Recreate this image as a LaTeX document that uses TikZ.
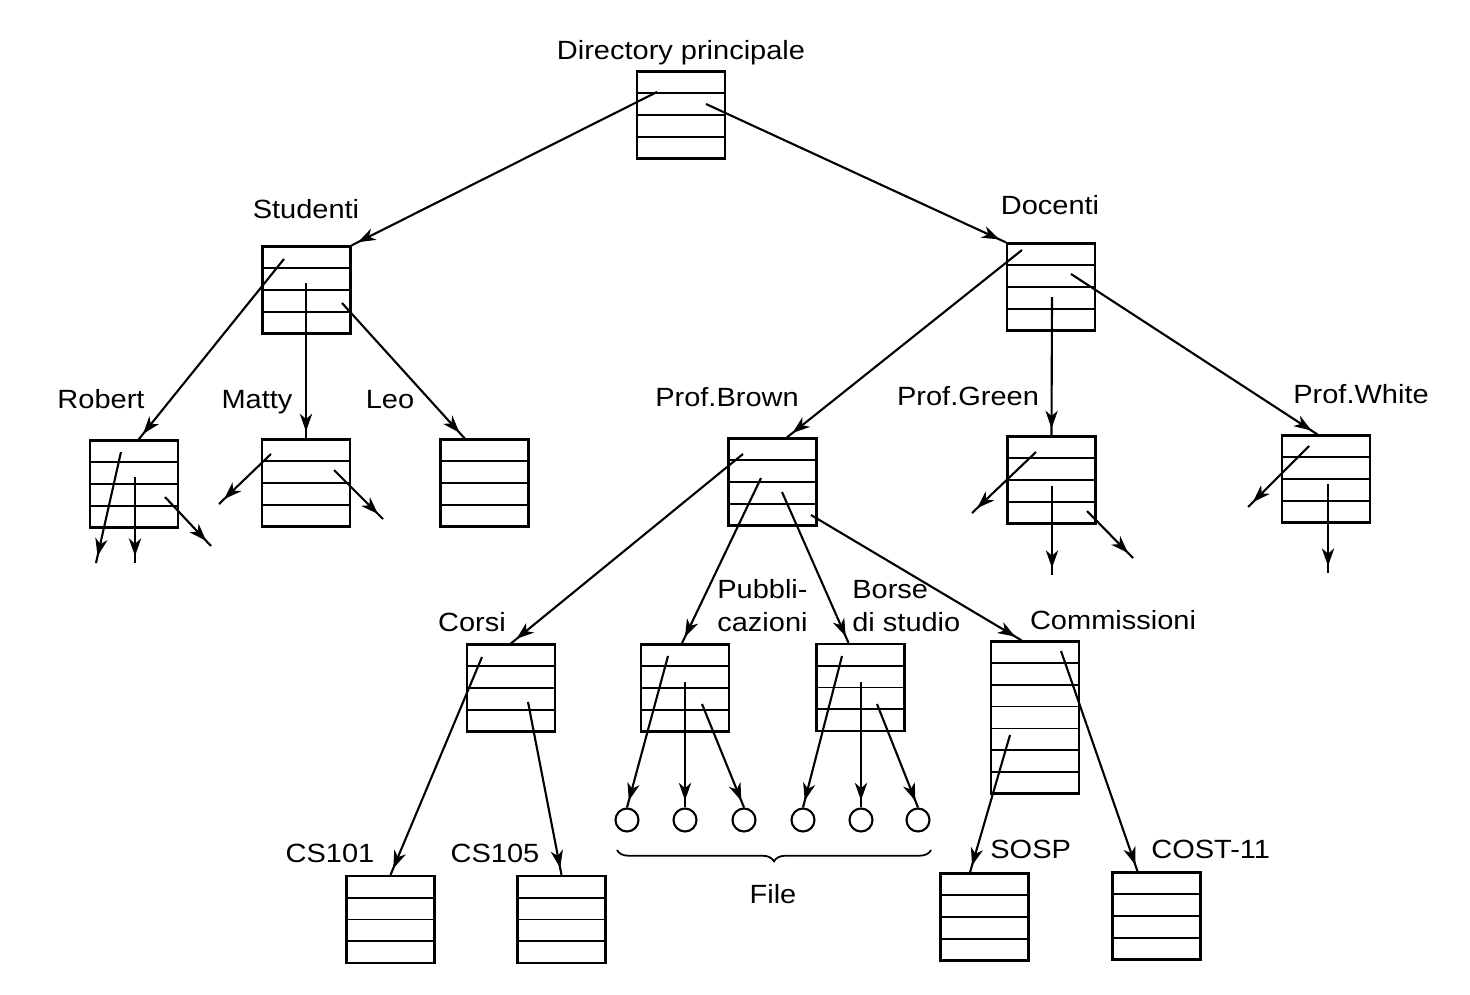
\documentclass[tikz,border=0pt]{standalone}
\usepackage{fontspec}
\setmainfont{Liberation Sans}[FakeStretch=1.1]
\usetikzlibrary{arrows.meta,decorations.markings,decorations.pathreplacing}

\begin{document}
\begin{tikzpicture}[x=0.02cm,y=-0.02cm,
    every node/.style={font=\fontsize{15pt}{18pt}\selectfont},
    lbl/.style={anchor=base, inner sep=0pt},
    dirbox/.style={draw, line width=1.3pt, inner sep=0pt, minimum width=1.76cm,
      minimum height=#1*0.435cm,
      path picture={\pgfmathtruncatemacro\nrows{#1-1}
        \foreach \k in {1,...,\nrows}
          \draw[line width=0.9pt] ([yshift=-\k*0.435cm]path picture bounding box.north west)
            -- ([yshift=-\k*0.435cm]path picture bounding box.north east);}},
    dirbox/.default=4,
    filenode/.style={draw, circle, line width=1.2pt, minimum size=0.46cm, inner sep=0pt},
    link/.style={line width=1.2pt, postaction={decorate},
      decoration={markings, mark=at position -4pt with {\arrow{Stealth[length=10pt,width=7pt,inset=3pt]}}}}]
                    \useasboundingbox (0,0) rectangle (1470,994);

                    \node[dirbox] at (681,115) (root) {};
                    \node[dirbox] at (306.5,290) (stud) {};
                    \node[dirbox] at (1051,287) (doc) {};
                    \node[dirbox] at (134,484) (robert) {};
                    \node[dirbox] at (306,483) (matty) {};
                    \node[dirbox] at (484.5,483) (leo) {};
                    \node[dirbox] at (772.5,482) (brown) {};
                    \node[dirbox] at (1051.5,480) (green) {};
                    \node[dirbox] at (1326,479) (white) {};
                    \node[dirbox] at (511,688) (corsi) {};
                    \node[dirbox] at (685,688) (pubbl) {};
                    \node[dirbox] at (860.5,687.5) (borse) {};
                    \node[dirbox=7] at (1035,717.5) (comm) {};
                    \node[dirbox] at (390.5,919.5) (cs101) {};
                    \node[dirbox] at (561.5,919.5) (cs105) {};
                    \node[dirbox] at (984.5,917) (sosp) {};
                    \node[dirbox] at (1156.5,916) (cost) {};

                    \foreach \x [count=\i] in {627,685,744,803,861,918}
                      \node[filenode] at (\x,820) (f\i) {};

                    \node[lbl] at (681,59) (lroot) {Directory principale};
                    \node[lbl] at (306,218) (lstud) {Studenti};
                    \node[lbl] at (1050,214) (ldoc) {Docenti};
                    \node[lbl] at (101,408) (lrobert) {Robert};
                    \node[lbl] at (257,408) (lmatty) {Matty};
                    \node[lbl] at (390,408) (lleo) {Leo};
                    \node[lbl] at (727,406) (lbrown) {Prof.Brown};
                    \node[lbl] at (968,405) (lgreen) {Prof.Green};
                    \node[lbl] at (1361,403) (lwhite) {Prof.White};
                    \node[lbl] at (472,631) (lcorsi) {Corsi};
                    \node[lbl, anchor=base west] at (717,598) (lpubbl1) {Pubbli-};
                    \node[lbl, anchor=base west] at (717,631) (lpubbl2) {cazioni};
                    \node[lbl, anchor=base west] at (852,598) (lborse1) {Borse};
                    \node[lbl, anchor=base west] at (852,631) (lborse2) {di studio};
                    \node[lbl] at (1113,629) (lcomm) {Commissioni};
                    \node[lbl] at (330,862) (lcs101) {CS101};
                    \node[lbl] at (495,862) (lcs105) {CS105};
                    \node[lbl, anchor=base west] at (990,858) (lsosp) {SOSP};
                    \node[lbl, anchor=base west] at (1151,858) (lcost) {COST-11};
                    \node[lbl] at (773,903) (lfile) {File};

                    % entries inside the directories
                    \coordinate (r1) at (657,92);
                    \coordinate (r2) at (706,104);
                    \coordinate (s1) at (284,259);
                    \coordinate (s2) at (306,283);
                    \coordinate (s3) at (342,303);
                    \coordinate (d1) at (1022,250);
                    \coordinate (d2) at (1052,297);
                    \coordinate (d3) at (1071,274);
                    \coordinate (b1) at (743,454);
                    \coordinate (b2) at (761,478);
                    \coordinate (b3) at (782,492);
                    \coordinate (b4) at (811,515);
                    \coordinate (c1) at (482,657);
                    \coordinate (c2) at (528,702);
                    \coordinate (p1) at (668,656);
                    \coordinate (p2) at (685,682);
                    \coordinate (p3) at (702,704);
                    \coordinate (o1) at (842,656);
                    \coordinate (o2) at (861,682);
                    \coordinate (o3) at (877,704);
                    \coordinate (k1) at (1010,735);
                    \coordinate (k2) at (1061,651);

                    \draw[link] (r1) -- (stud.north east);
                    \draw[link] (r2) -- (doc.north west);
                    \draw[link] (s1) -- (robert.84);
                    \draw[link] (s2) -- (matty.north);
                    \draw[link] (s3) -- (leo.114);
                    \draw[link] (d1) -- (brown.72);
                    \draw[link] (d2) -- (green.north);
                    \draw[link] (d3) -- (white.101);
                    \draw[link] (b1) -- (corsi.north);
                    \draw[link] (b2) -- (pubbl.94);
                    \draw[link] (b3) -- (borse.105);
                    \draw[link] (b4) -- (comm.100);
                    \draw[link] (c1) -- (cs101.north);
                    \draw[link] (c2) -- (cs105.north);
                    \draw[link] (p1) -- (f1.north);
                    \draw[link] (p2) -- (f2.north);
                    \draw[link] (p3) -- (f3.north);
                    \draw[link] (o1) -- (f4.north);
                    \draw[link] (o2) -- (f5.north);
                    \draw[link] (o3) -- (f6.north);
                    \draw[link] (k1) -- (sosp.108);
                    \draw[link] (k2) -- (cost.113);

                    % entries leading out of the picture
                    \coordinate (rb1) at (121,452);
                    \coordinate (rb1e) at (96,563);
                    \coordinate (rb2) at (135,477);
                    \coordinate (rb2e) at (135,563);
                    \coordinate (rb3) at (165,497);
                    \coordinate (rb3e) at (211,546);
                    \coordinate (m1) at (271,454);
                    \coordinate (m1e) at (219,504);
                    \coordinate (m2) at (334,470);
                    \coordinate (m2e) at (383,519);
                    \coordinate (g1) at (1036,452);
                    \coordinate (g1e) at (972,513);
                    \coordinate (g2) at (1052,486);
                    \coordinate (g2e) at (1052,575);
                    \coordinate (g3) at (1087,511);
                    \coordinate (g3e) at (1133,558);
                    \coordinate (w1) at (1309,446);
                    \coordinate (w1e) at (1248,507);
                    \coordinate (w2) at (1328,484);
                    \coordinate (w2e) at (1328,573);

                    \draw[link] (rb1) -- (rb1e);
                    \draw[link] (rb2) -- (rb2e);
                    \draw[link] (rb3) -- (rb3e);
                    \draw[link] (m1) -- (m1e);
                    \draw[link] (m2) -- (m2e);
                    \draw[link] (g1) -- (g1e);
                    \draw[link] (g2) -- (g2e);
                    \draw[link] (g3) -- (g3e);
                    \draw[link] (w1) -- (w1e);
                    \draw[link] (w2) -- (w2e);

                    \coordinate (bl) at (617,850);
                    \coordinate (br) at (931,850);
                    \draw[line width=1pt, decorate, decoration={brace, mirror, amplitude=6.5pt}] (bl) -- (br);
                \end{tikzpicture}
\end{document}
